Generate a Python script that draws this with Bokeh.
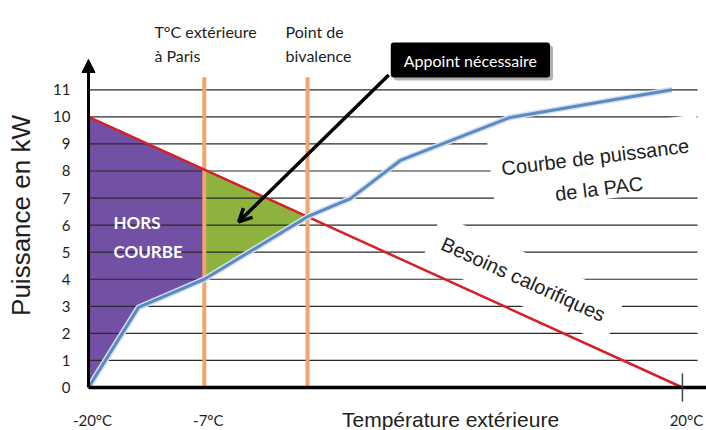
import numpy as np
from bokeh.plotting import figure
from bokeh.models import Range1d, FixedTicker, Arrow, NormalHead, OpenHead
from bokeh.core.properties import value
from bokeh.embed import file_html
from bokeh.resources import INLINE

# ---------------- data (schematic temperature axis) ----------------
temp_tick_pos = [0, 7.8, 40]
temp_tick_labels = ["-20°C", "-7°C", "20°C"]
paris_pos = 7.8
bivalence_pos = 14.75

power_ticks = list(range(0, 12))
grid_levels = list(range(1, 12))

needs_x = [0, 40]          # Besoins calorifiques
needs_y = [10, 0]

pac_x = [0, 3.37, 7.8, 14.75, 17.64, 21.0, 28.4, 39.3]   # Courbe de puissance de la PAC
pac_y = [0, 2.96, 4.0, 6.31, 6.98, 8.39, 9.98, 11.0]


def region(x0, x1):
    xt = [x0] + [x for x in needs_x if x0 < x < x1] + [x1]
    yt = np.interp(xt, needs_x, needs_y)
    xb = [x0] + [x for x in pac_x if x0 < x < x1] + [x1]
    yb = np.interp(xb, pac_x, pac_y)
    return list(xt) + list(xb[::-1]), list(yt) + list(yb[::-1])


purple_x, purple_y = region(0, paris_pos)
green_x, green_y = region(paris_pos, bivalence_pos)
green_cx = float(np.mean([paris_pos, bivalence_pos, paris_pos]))
green_cy = float(np.mean([np.interp(paris_pos, needs_x, needs_y),
                          np.interp(bivalence_pos, needs_x, needs_y),
                          np.interp(paris_pos, pac_x, pac_y)]))

X_START, X_END = -1.212, 41.62
Y_START, Y_END = -1.589, 14.30

p = figure(width=706, height=430, x_range=Range1d(X_START, X_END),
           y_range=Range1d(Y_START, Y_END), x_axis_type=None,
           output_backend="svg", toolbar_location=None,
           min_border_left=70, min_border_right=0, min_border_top=0,
           min_border_bottom=0)
p.outline_line_color = None
p.grid.visible = False
p.background_fill_color = "white"

ax = p.yaxis[0]
ax.ticker = FixedTicker(ticks=power_ticks)
ax.axis_line_color = None
ax.major_tick_line_color = None
ax.minor_tick_line_color = None
ax.major_label_text_font = "Lato"
ax.major_label_text_font_size = "15px"
ax.major_label_text_color = "#1e1e1e"
ax.major_label_standoff = -6
ax.axis_label = "Puissance en kW"
ax.axis_label_text_font = "Liberation Sans"
ax.axis_label_text_font_size = "26px"
ax.axis_label_text_font_style = "normal"
ax.axis_label_text_color = "#1e1e1e"
ax.axis_label_standoff = 14

# filled regions
p.patch(purple_x, purple_y, fill_color="#7250A4", line_color=None)
p.patch(green_x, green_y, fill_color="#8DB33E", line_color=None)

# horizontal guide lines
p.segment(x0=[0] * len(grid_levels), y0=grid_levels, x1=[X_END - 0.6] * len(grid_levels),
          y1=grid_levels, line_color="#2a2a2a", line_width=1.2)

# orange vertical markers
p.segment(x0=[paris_pos, bivalence_pos], y0=[0, 0], x1=[paris_pos, bivalence_pos],
          y1=[11.46, 11.46], line_color="#F2A46C", line_width=4)

# rotated captions on white boxes
p.text(x=[29.29], y=[4.0], text=["Besoins calorifiques"], angle=-24.3, angle_units="deg",
       text_font=value("Liberation Sans"), text_font_size="20px", text_color="#1e1e1e",
       text_align="center", text_baseline="middle", background_fill_color="white",
       padding=dict(left=12, right=12, top=14, bottom=14))
p.text(x=[34.18], y=[8.28], text=["Courbe de puissance\nde la PAC"], angle=7, angle_units="deg",
       text_font=value("Liberation Sans"), text_font_size="20px", text_color="#1e1e1e",
       text_align="center", text_baseline="middle", text_line_height=1.45,
       background_fill_color="white", padding=dict(left=11, right=11, top=19, bottom=0))

# curves
p.line(needs_x, needs_y, line_color="#D42027", line_width=2.5)
p.line(pac_x, pac_y, line_color="#D3E0EF", line_width=6)
p.line(pac_x, pac_y, line_color="#5A8AC6", line_width=3)

# x axis line and 20°C tick
p.segment(x0=[0], y0=[0], x1=[X_END], y1=[0], line_color="black", line_width=3.5)
p.segment(x0=[temp_tick_pos[-1]], y0=[-0.52], x1=[temp_tick_pos[-1]], y1=[0.52],
          line_color="#444444", line_width=1.5)

# texts
p.text(x=[1.68, 1.68], y=[6.08, 5.03], text=["HORS", "COURBE"], text_font=value("Lato"),
       text_font_style="bold", text_font_size="17px", text_color="white",
       text_baseline="alphabetic")
p.text(x=[4.44, 4.44, 13.27, 13.27], y=[13.14, 12.25, 13.14, 12.25],
       text=["T°C extérieure", "à Paris", "Point de", "bivalence"], text_font=value("Lato"),
       text_font_size="16px", text_color="#1e1e1e", text_baseline="alphabetic")
p.text(x=temp_tick_pos, y=[-1.2] * 3, text=temp_tick_labels, x_offset=4,
       text_font=value("Lato"), text_font_size="15px", text_color="#1e1e1e",
       text_align="center", text_baseline="alphabetic")
p.text(x=[24.38], y=[-1.19], text=["Température extérieure"],
       text_font=value("Liberation Sans"), text_font_size="21px", text_color="#1e1e1e",
       text_align="center", text_baseline="alphabetic")

# callout
box_x, box_y = 25.72, 12.1
p.text(x=[box_x], y=[box_y], text=["Appoint nécessaire"], x_offset=3, y_offset=3,
       text_font=value("Lato"), text_font_size="16px", text_color=None,
       text_align="center", text_baseline="middle",
       background_fill_color="#555555", background_fill_alpha=0.45,
       padding=dict(left=13, right=13, top=8, bottom=8), border_radius=3)
p.text(x=[box_x], y=[box_y], text=["Appoint nécessaire"], text_font=value("Lato"),
       text_font_size="16px", text_color="white", text_align="center", text_baseline="middle",
       background_fill_color="black", padding=dict(left=13, right=13, top=8, bottom=8),
       border_radius=3)
p.add_layout(Arrow(end=OpenHead(size=13, line_width=3.5, line_color="black"),
                   x_start=box_x - 5.5, y_start=box_y - 0.55, x_end=green_cx, y_end=green_cy,
                   line_width=3.5, line_color="black"))

# y axis arrow
p.add_layout(Arrow(end=NormalHead(size=13, fill_color="black", line_color="black"),
                   x_start=0, y_start=0, x_end=0, y_end=12.12,
                   line_width=3, line_color="black"))

open("out.html", "w").write(file_html(p, INLINE))
